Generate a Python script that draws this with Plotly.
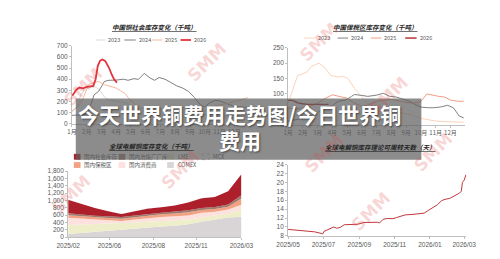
import plotly.graph_objects as go

W, H = 500, 259
def px(x): return x / W
def py(y): return 1 - y / H

MONTHS = [f"{m}月" for m in range(1, 13)]

# ---- top-left: 中国铜社会库存 (千吨) ----
tl_2023_x = [1.0,1.3,1.6,1.9,2.2,2.6,2.9,3.2,3.5,3.9,4.3,4.7,5.0,5.5,6.0,6.5,7.0,7.5,8.0,8.5,9.0,9.5,10.0,10.5,11.0,11.5,12.0,12.9]
tl_2023   = [100,150,260,310,325,330,300,240,215,205,195,185,160,130,110,80,70,65,75,70,65,60,80,90,70,60,55,60]
tl_2024_x = [1.0,1.5,2.0,2.3,2.5,2.8,3.2,3.5,4.0,4.5,4.8,5.2,5.5,5.9,6.3,6.6,6.9,7.3,7.7,8.1,8.5,8.9,9.3,9.7,10.0,10.3,10.7,11.0,11.3,11.7,12.0,12.5,12.9]
tl_2024   = [75,78,88,180,260,290,380,390,392,400,390,405,398,452,410,390,415,400,370,340,320,290,235,170,150,185,210,205,190,170,155,150,145]
tl_2025_x = [1.0,1.4,1.8,2.1,2.5,2.8,3.2,3.6,4.0,4.3,4.6,4.9,5.3,5.7,6.1,6.5,7.0,7.5,8.0,8.5,9.0,9.5,10.0,10.5,11.0,11.5,12.0,12.5,12.9]
tl_2025   = [115,150,240,350,370,380,350,335,320,295,270,220,170,140,125,115,130,140,135,150,140,120,110,150,170,180,200,215,235]
tl_2026_x = [1.02,1.3,1.5,1.75,2.0,2.2,2.45,2.6,2.75,2.9,3.05,3.25,3.5,3.7,3.85,4.05]
tl_2026   = [252,305,325,318,330,333,340,400,520,565,578,565,505,440,400,370]

# ---- top-right: 中国保税区库存 (千吨) ----
tr_2023_x = [1.0,1.3,1.65,2.0,2.3,2.6,3.1,3.45,3.9,4.35,4.75,5.06,5.5,5.97,6.35,7.0,7.5,8.0,8.5,9.0,9.5,10.0,10.5,11.0,11.5,12.0,12.5,12.9]
tr_2023   = [70,110,160,165,172,190,200,187,160,155,157,150,118,92,71,60,50,45,40,35,30,20,15,12,10,10,8,8]
tr_2024_x = [1.0,1.5,2.0,2.5,3.0,3.5,4.0,4.4,4.9,5.3,5.5,6.0,6.4,7.0,7.45,7.9,8.3,8.6,9.2,9.6,10.0,10.5,10.9,11.4,11.8,12.2,12.6,12.9]
tr_2024   = [12,15,20,30,40,55,62,76,80,92,98,95,92,96,102,92,90,86,76,66,57,55,55,58,63,55,28,22]
tr_2025_x = [1.0,1.5,2.0,2.5,3.0,3.5,4.0,4.5,5.0,5.5,6.0,6.5,7.0,7.5,8.0,8.5,9.0,9.5,10.0,10.4,10.8,11.2,11.6,12.0,12.5,12.9]
tr_2025   = [55,50,55,60,70,85,97,92,86,70,60,65,75,80,82,78,72,70,75,100,95,92,90,80,76,76]
tr_2026_x = [1.0,1.3,1.5,1.65,2.0,2.3,2.7,3.1,3.5,3.75]
tr_2026   = [79,79,75,71,68,66,66,65,66,66]

# ---- bottom-left: 全球电解铜库存 (千吨), stacked ----
bl_idx = list(range(14))
bl_ticks = [0, 3.1, 6.4, 9.6, 13]
bl_ticktext = ["2025/02", "2025/06", "2025/08", "2025/11", "2026/03"]
comex   = [80,110,150,185,215,240,265,285,310,350,420,480,530,555]
lme     = [245,225,200,175,155,155,155,155,150,130,110,100,110,195]
consumer= [200,170,130,100,70,85,100,105,105,110,130,110,110,130]
bonded  = [70,60,55,60,60,65,70,75,80,85,80,75,75,170]
smelter = [55,50,45,50,45,40,45,45,50,55,55,55,60,90]
social  = [370,285,210,130,85,115,145,145,165,210,265,270,365,570]
mcx     = [2,2,2,2,2,2,2,2,2,2,2,2,2,2]

# ---- bottom-right: 可周转天数 (天) ----
br_dates = ["2025-05-01","2025-05-17","2025-06-03","2025-06-16","2025-06-27","2025-06-30","2025-07-02",
            "2025-07-14","2025-07-19","2025-07-24","2025-07-30","2025-08-06","2025-08-17","2025-08-29",
            "2025-09-09","2025-09-23","2025-10-02","2025-10-06","2025-10-12","2025-10-19","2025-10-29",
            "2025-11-04","2025-11-11","2025-11-19","2025-12-01","2025-12-12","2025-12-22","2025-12-29",
            "2026-01-02","2026-01-09","2026-01-14","2026-01-21","2026-01-27","2026-02-04","2026-02-13",
            "2026-02-21","2026-02-24","2026-02-26","2026-03-01","2026-03-04"]
br_days  = [9.45,9.3,9.1,8.9,8.55,8.45,9.0,
            9.8,10.0,9.7,9.9,10.5,10.6,10.6,
            11.0,11.1,11.05,10.9,11.7,11.9,11.85,
            12.1,12.4,12.7,12.8,13.0,13.1,13.7,
            14.0,14.5,15.0,15.9,16.2,16.4,17.0,
            17.6,18.0,20.0,20.5,21.7]

FONT = "Liberation Sans, Noto Sans CJK SC, sans-serif"
CJK = "Noto Sans CJK SC, sans-serif"
AX = "#bfbfbf"
TK = "#595959"

fig = go.Figure()

def line(x, y, color, width, xa, ya):
    fig.add_trace(go.Scatter(x=x, y=y, mode="lines", line=dict(color=color, width=width),
                             xaxis=xa, yaxis=ya, showlegend=False, hoverinfo="skip"))

# top-left
line(tl_2023_x, tl_2023, "#d9d9d9", 1, "x", "y")
line(tl_2024_x, tl_2024, "#7f7f7f", 1, "x", "y")
line(tl_2025_x, tl_2025, "#f7b79c", 1, "x", "y")
line(tl_2026_x, tl_2026, "#e2343c", 1.8, "x", "y")
# top-right
line(tr_2023_x, tr_2023, "#fbd3b8", 1, "x2", "y2")
line(tr_2024_x, tr_2024, "#808080", 1, "x2", "y2")
line(tr_2025_x, tr_2025, "#f29c86", 1, "x2", "y2")
line(tr_2026_x, tr_2026, "#b3262c", 1.4, "x2", "y2")
# bottom-left stacked areas
layers = [("COMEX", comex, "#d9d4d6"), ("LME", lme, "#efeecb"), ("国内消费商", consumer, "#fde1de"),
          ("国内保税区", bonded, "#f2a283"), ("国内冶炼厂厂库", smelter, "#9e7a6e"),
          ("国内社会库存", social, "#ad1f2a"), ("MCX", mcx, "#e6e6e6")]
for name, vals, col in layers:
    fig.add_trace(go.Scatter(x=bl_idx, y=vals, name=name, mode="lines", stackgroup="s",
                             line=dict(width=0, color=col), fillcolor=col,
                             xaxis="x3", yaxis="y3", showlegend=False, hoverinfo="skip"))
# bottom-right
line(br_dates, br_days, "#c0383c", 1, "x4", "y4")

def axstyle(**kw):
    d = dict(showline=True, linecolor=AX, linewidth=1, ticks="outside", ticklen=2, tickcolor=AX,
             tickfont=dict(size=6.5, color=TK, family=FONT), showgrid=False, zeroline=False,
             fixedrange=True)
    d.update(kw)
    return d

fig.update_layout(
    width=W, height=H, margin=dict(l=0, r=0, t=0, b=0),
    paper_bgcolor="white", plot_bgcolor="rgba(0,0,0,0)",
    xaxis=axstyle(domain=[px(63), px(249)], range=[1, 13], tickvals=list(range(1, 13)),
                  ticktext=MONTHS, anchor="y", tickfont=dict(size=6, color=TK, family=CJK)),
    yaxis=axstyle(domain=[py(123), py(43)], range=[0, 700], dtick=100, anchor="x"),
    xaxis2=axstyle(domain=[px(290), px(476)], range=[1, 13], tickvals=list(range(1, 13)),
                   ticktext=MONTHS, anchor="y2", tickfont=dict(size=6, color=TK, family=CJK)),
    yaxis2=axstyle(domain=[py(124), py(45)], range=[0, 250], dtick=50, anchor="x2"),
    xaxis3=axstyle(domain=[px(59), px(241)], range=[0, 13], tickvals=bl_ticks,
                   ticktext=bl_ticktext, anchor="y3"),
    yaxis3=axstyle(domain=[py(239.5), py(171.7)], range=[0, 1800], dtick=200,
                   tickformat=",d", anchor="x3"),
    xaxis4=axstyle(domain=[px(290), px(477.4)], type="date",
                   range=["2025-05-01", "2026-03-05"], dtick="M2", tick0="2025-05-01",
                   tickformat="%Y/%m", anchor="y4"),
    yaxis4=axstyle(domain=[py(238.3), py(165)], range=[8, 24], dtick=2, anchor="x4"),
)

shapes = []
ann = []

def title(text, x, y):
    ann.append(dict(text=f"<b><i>{text}</i></b>", x=px(x), y=py(y), xref="paper", yref="paper",
                    showarrow=False, xanchor="center", yanchor="middle",
                    font=dict(size=6.5, color="#262626", family=CJK, lineposition="under")))

title("中国铜社会库存变化（千吨）", 150, 24)
title("中国保税区库存变化（千吨）", 382, 24)
title("全球电解铜库存变化（千吨）", 147, 146)
title("全球电解铜库存理论可周转天数（天）", 387, 147)

def leg_text(text, x, y):
    ann.append(dict(text=text, x=px(x), y=py(y), xref="paper", yref="paper", showarrow=False,
                    xanchor="left", yanchor="middle", font=dict(size=5.5, color=TK, family=CJK)))

def leg_line(x0, x1, y, color, width, text):
    shapes.append(dict(type="line", xref="paper", yref="paper", x0=px(x0), x1=px(x1),
                       y0=py(y), y1=py(y), line=dict(color=color, width=width)))
    leg_text(text, x1 + 1, y)

def leg_box(x0, y, color, text, dash=False):
    shapes.append(dict(type="rect", xref="paper", yref="paper", x0=px(x0), x1=px(x0 + 7),
                       y0=py(y + 3), y1=py(y - 3), fillcolor=color,
                       line=dict(width=0.6 if dash else 0, color="#999999", dash="dot")))
    leg_text(text, x0 + 9, y)

# legends top-left
leg_line(88, 98, 37, "#d9d9d9", 1, "2023")
leg_line(118, 130, 37, "#7f7f7f", 1, "2024")
leg_line(147, 158, 37, "#f7b79c", 1, "2025")
leg_line(177, 188, 37, "#e2343c", 1.8, "2026")
# legends top-right
leg_line(307, 318, 35, "#fbd3b8", 1, "2023")
leg_line(342, 353, 35, "#808080", 1, "2024")
leg_line(377, 388, 35, "#f29c86", 1, "2025")
leg_line(413, 425, 35, "#b3262c", 1.4, "2026")
# legend bottom-left
leg_box(65, 157, "#ad1f2a", "国内社会库存")
leg_box(112, 157, "#9e7a6e", "国内冶炼厂厂库")
leg_box(163, 157, "#efeecb", "LME")
leg_box(200, 157, "white", "MCX", dash=True)
leg_box(65, 165.5, "#f2a283", "国内保税区")
leg_box(112, 165.5, "#fde1de", "国内消费商")
leg_box(163, 165.5, "#d9d4d6", "COMEX")

# watermarks
for (wx, wy) in [(47, 58), (205, 33), (423, 68), (470, 152), (35, 222), (177, 198),
                 (328, 180), (405, 240), (350, 12)]:
    ann.append(dict(text="<b>SMM</b>", x=px(wx), y=py(wy), xref="paper", yref="paper",
                    showarrow=False, textangle=-45,
                    font=dict(size=17, color="rgba(228,70,70,0.22)", family="DejaVu Sans")))

# banner
shapes.append(dict(type="rect", xref="paper", yref="paper", x0=px(67), x1=px(430),
                   y0=py(160), y1=py(97), fillcolor="rgba(95,95,95,0.72)",
                   line=dict(width=0), layer="above"))
for text, x, y in [("今天世界铜费用走势图/今日世界铜", 239, 113), ("费用", 240, 140)]:
    ann.append(dict(text=f"<b>{text}</b>", x=px(x), y=py(y), xref="paper", yref="paper",
                    showarrow=False, xanchor="center", yanchor="middle",
                    font=dict(size=21, color="white", family=CJK,
                              shadow="1px 1px 2px rgba(0,0,0,0.5)")))

fig.update_layout(shapes=shapes, annotations=ann)
fig.write_html("out.html")
